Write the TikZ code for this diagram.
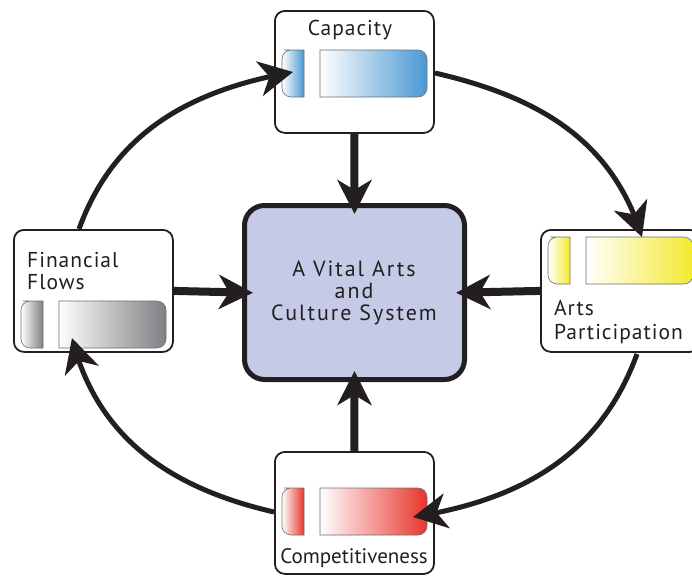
\documentclass[tikz,border=0pt]{standalone}
\usepackage{fontspec}
\setmainfont{PT Sans}
\newfontfamily\tagfont[LetterSpace=4.5]{PT Sans}
\newfontfamily\hubfont[LetterSpace=9]{PT Sans}
\usetikzlibrary{arrows.meta,bending}
\definecolor{ink}{HTML}{231F20}
\definecolor{hubfill}{HTML}{C5CBE6}
\definecolor{rim}{HTML}{6D6E71}
\definecolor{capblue}{HTML}{4A98D4}
\definecolor{artsyellow}{HTML}{F3E92E}
\definecolor{compred}{HTML}{E8352A}
\definecolor{fingrey}{HTML}{7E8083}

% two gauge bars inside a panel, placed relative to the panel's top-left corner
\newcommand\gaugebars[4]{%
  \begin{scope}[shift={(#1,#2)}]
    \shade[left color=white, right color=#4, draw=rim, line width=0.6pt]
      (19,#3+47) [rounded corners=9pt] -- (8,#3+47) -- (8,#3) -- (19,#3)
      [sharp corners] -- (30,#3) -- (30,#3+47) -- cycle;
    \shade[left color=white, right color=#4, draw=rim, line width=0.6pt]
      (100,#3) [rounded corners=9pt] -- (153,#3) -- (153,#3+47) -- (100,#3+47)
      [sharp corners] -- (46,#3+47) -- (46,#3) -- cycle;
  \end{scope}}

\begin{document}
\begin{tikzpicture}[x=1pt,y=-1pt,
  panel/.style={draw=ink, line width=1.8pt, rounded corners=10pt, fill=white,
    minimum width=159pt, minimum height=122pt, anchor=north west, inner sep=0pt},
  hub/.style={draw=ink, line width=5pt, rounded corners=20pt, fill=hubfill,
    minimum width=220pt, minimum height=174pt, inner sep=0pt},
  tag/.style={font=\tagfont\fontsize{21.5}{24}\selectfont, text=ink, inner sep=0pt},
  hubtext/.style={font=\hubfont\fontsize{22}{24}\selectfont, text=ink, inner sep=0pt},
  flow/.style={draw=ink, line width=8pt, shorten >=-11pt,
    -{Stealth[length=34pt,width=34pt,inset=10pt]}},
  cycleflow/.style={draw=ink, line width=5pt,
    -{Stealth[length=34pt,width=35pt,inset=10pt,flex]}},
]
\clip (0,0) rectangle (692,576);

% panels
\node[panel] (cap)  at (274,10)  {};
\node[panel] (arts) at (540,229) {};
\node[panel] (fin)  at (13,229)  {};
\node[panel] (comp) at (274,451) {};

\gaugebars{274}{10}{40}{capblue}
\gaugebars{540}{229}{8}{artsyellow}
\gaugebars{13}{229}{72}{fingrey}
\gaugebars{274}{451}{37}{compred}

% panel labels
\node[tag, anchor=base] (capt) at (350,35) {Capacity};
\node[tag, anchor=base west] (artsa) at (554,315) {Arts};
\node[tag, anchor=base west] (artsb) at (554,339) {Participation};
\node[tag, anchor=base west] (fina) at (27,267) {Financial};
\node[tag, anchor=base west] (finb) at (27,289) {Flows};
\node[tag, font=\fontsize{21}{24}\selectfont, anchor=base] (compt) at (354,563) {Competitiveness};

% central system
\node[hub] (hub) at (354.5,292.5) {};
\node[hubtext, anchor=base] (hubt1) at (354,276) {A Vital Arts};
\node[hubtext, anchor=base] (hubt2) at (354,298) {and};
\node[hubtext, anchor=base] (hubt3) at (354,320) {Culture System};

% inward flows
\draw[flow] (cap.south) -- (hub.north);
\draw[flow] (arts.west) -- (hub.east);
\draw[flow] (fin.east) -- (hub.west);
\draw[flow] (comp.north) -- (hub.south);

% outer cycle
\coordinate (c1s) at (79,229);
\coordinate (c1e) at (293,72);
\coordinate (c2s) at (435,73);
\coordinate (c2e) at (642,237);
\coordinate (c3s) at (637,354);
\coordinate (c3e) at (413,517);
\coordinate (c4s) at (274,512);
\coordinate (c4e) at (72,338);
\draw[cycleflow] (c1s) to[out=70,in=190] (c1e);
\draw[cycleflow] (c2s) to[out=-13,in=107] (c2e);
\draw[cycleflow] (c3s) to[out=250,in=9] (c3e);
\draw[cycleflow] (c4s) to[out=167,in=-76] (c4e);
\end{tikzpicture}
\end{document}
